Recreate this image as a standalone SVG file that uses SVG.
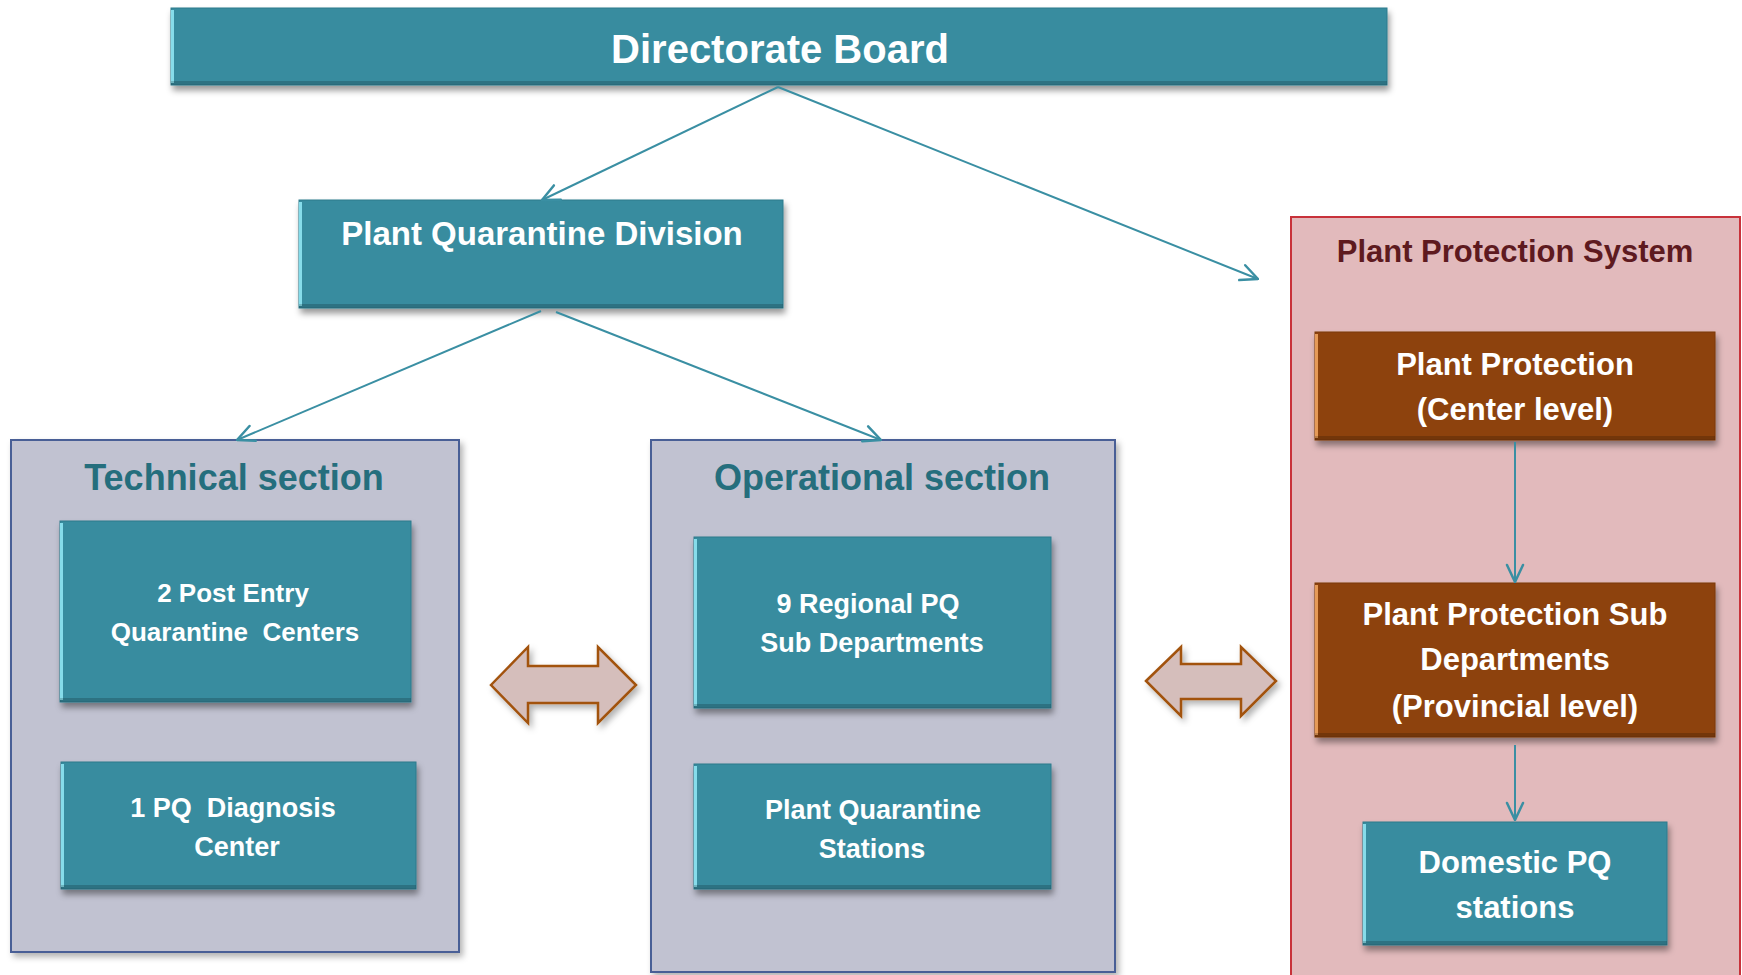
<svg xmlns="http://www.w3.org/2000/svg" width="1742" height="975" viewBox="0 0 1742 975">
<defs>
<filter id="sh" x="-10%" y="-10%" width="125%" height="135%">
<feDropShadow dx="2" dy="5" stdDeviation="3" flood-color="#000" flood-opacity="0.4"/>
</filter>
<filter id="sh2" x="-10%" y="-10%" width="125%" height="125%">
<feDropShadow dx="3" dy="4" stdDeviation="3" flood-color="#000" flood-opacity="0.3"/>
</filter>
<marker id="arr" viewBox="0 0 20 20" refX="19" refY="10" markerWidth="20" markerHeight="20" markerUnits="userSpaceOnUse" orient="auto">
<path d="M2,2 L19,10 L2,18" fill="none" stroke="#3A8FA3" stroke-width="2.5" stroke-linecap="round" stroke-linejoin="round"/>
</marker>
</defs>
<style>
text{font-family:"Liberation Sans",Arial,sans-serif;font-weight:bold;text-anchor:middle}
.tealbox{fill:#388C9F;stroke:#2E7A8C;stroke-width:1}
.brownbox{fill:#8D420A;stroke:#7A3808;stroke-width:1}
.hiT{fill:#86DCEA}
.hiB{fill:#E59A58}
.lo{fill:#000;opacity:0.18}
.wt{fill:#FFFFFF}
.sec{fill:#C1C2D1;stroke:#4A5E96;stroke-width:2}
.pps{fill:#E2BABC;stroke:#C8323A;stroke-width:2}
.sect{fill:#256E7D;font-size:36px}
.conn{stroke:#3A8FA3;stroke-width:2;fill:none}
.dbl{fill:#D5BEBB;stroke:#A2520F;stroke-width:2.5;stroke-linejoin:miter}
</style>

<g id="plant-protection-system">
<rect class="pps" x="1291" y="217" width="449" height="770"/>
<text x="1515" y="262" style="fill:#5E1A1F;font-size:31px">Plant Protection System</text>
</g>

<g id="technical-section">
<rect class="sec" x="11" y="440" width="448" height="512" filter="url(#sh2)"/>
<text class="sect" x="234" y="490">Technical section</text>
</g>

<g id="operational-section">
<rect class="sec" x="651" y="440" width="464" height="532" filter="url(#sh2)"/>
<text class="sect" x="882" y="490">Operational section</text>
</g>

<g id="directorate-board">
<rect class="tealbox" x="171" y="8" width="1216" height="77" filter="url(#sh)"/>
<rect class="hiT" x="171" y="10" width="3" height="73"/>
<rect class="lo" x="171" y="81" width="1216" height="4"/>
<text class="wt" x="780" y="63" style="font-size:40px">Directorate Board</text>
</g>

<g id="plant-quarantine-division">
<rect class="tealbox" x="299" y="200" width="484" height="108" filter="url(#sh)"/>
<rect class="hiT" x="299" y="202" width="3" height="104"/>
<rect class="lo" x="299" y="304" width="484" height="4"/>
<text class="wt" x="542" y="245" style="font-size:33px">Plant Quarantine Division</text>
</g>

<g id="post-entry-centers">
<rect class="tealbox" x="60" y="521" width="351" height="181" filter="url(#sh)"/>
<rect class="hiT" x="60" y="523" width="3" height="177"/>
<rect class="lo" x="60" y="698" width="351" height="4"/>
<text class="wt" x="233" y="602" style="font-size:26px">2 Post Entry</text>
<text class="wt" x="235" y="641" style="font-size:26px" xml:space="preserve">Quarantine  Centers</text>
</g>

<g id="diagnosis-center">
<rect class="tealbox" x="61" y="762" width="355" height="127" filter="url(#sh)"/>
<rect class="hiT" x="61" y="764" width="3" height="123"/>
<rect class="lo" x="61" y="885" width="355" height="4"/>
<text class="wt" x="233" y="817" style="font-size:27px" xml:space="preserve">1 PQ  Diagnosis</text>
<text class="wt" x="237" y="856" style="font-size:27px">Center</text>
</g>

<g id="regional-pq">
<rect class="tealbox" x="694" y="537" width="357" height="171" filter="url(#sh)"/>
<rect class="hiT" x="694" y="539" width="3" height="167"/>
<rect class="lo" x="694" y="704" width="357" height="4"/>
<text class="wt" x="868" y="613" style="font-size:27px">9 Regional PQ</text>
<text class="wt" x="872" y="652" style="font-size:27px">Sub Departments</text>
</g>

<g id="pq-stations">
<rect class="tealbox" x="694" y="764" width="357" height="125" filter="url(#sh)"/>
<rect class="hiT" x="694" y="766" width="3" height="121"/>
<rect class="lo" x="694" y="885" width="357" height="4"/>
<text class="wt" x="873" y="819" style="font-size:27px">Plant Quarantine</text>
<text class="wt" x="872" y="858" style="font-size:27px">Stations</text>
</g>

<g id="plant-protection-center">
<rect class="brownbox" x="1315" y="332" width="400" height="108" filter="url(#sh)"/>
<rect class="hiB" x="1315" y="334" width="3" height="104"/>
<rect class="lo" x="1315" y="436" width="400" height="4"/>
<text class="wt" x="1515" y="375" style="font-size:31px">Plant Protection</text>
<text class="wt" x="1515" y="420" style="font-size:31px">(Center level)</text>
</g>

<g id="plant-protection-sub">
<rect class="brownbox" x="1315" y="583" width="400" height="154" filter="url(#sh)"/>
<rect class="hiB" x="1315" y="585" width="3" height="150"/>
<rect class="lo" x="1315" y="733" width="400" height="4"/>
<text class="wt" x="1515" y="625" style="font-size:31px">Plant Protection Sub</text>
<text class="wt" x="1515" y="670" style="font-size:31px">Departments</text>
<text class="wt" x="1515" y="717" style="font-size:31px">(Provincial level)</text>
</g>

<g id="domestic-pq">
<rect class="tealbox" x="1363" y="822" width="304" height="123" filter="url(#sh)"/>
<rect class="hiT" x="1363" y="824" width="3" height="119"/>
<rect class="lo" x="1363" y="941" width="304" height="4"/>
<text class="wt" x="1515" y="873" style="font-size:31px">Domestic PQ</text>
<text class="wt" x="1515" y="918" style="font-size:31px">stations</text>
</g>

<g id="connectors">
<line class="conn" x1="778" y1="87" x2="542" y2="200" marker-end="url(#arr)"/>
<line class="conn" x1="778" y1="87" x2="1258" y2="279" marker-end="url(#arr)"/>
<line class="conn" x1="541" y1="311" x2="237" y2="440" marker-end="url(#arr)"/>
<line class="conn" x1="556" y1="312" x2="881" y2="440" marker-end="url(#arr)"/>
<line class="conn" x1="1515" y1="442" x2="1515" y2="582" marker-end="url(#arr)"/>
<line class="conn" x1="1515" y1="745" x2="1515" y2="820" marker-end="url(#arr)"/>
<path class="dbl" filter="url(#sh2)" d="M491,685 L528,647 L528,666 L598,666 L598,647 L636,685 L598,723 L598,703 L528,703 L528,723 Z"/>
<path class="dbl" filter="url(#sh2)" d="M1146,681 L1181,647 L1181,664 L1241,664 L1241,647 L1276,681 L1241,716 L1241,699 L1181,699 L1181,716 Z"/>
</g>
</svg>
